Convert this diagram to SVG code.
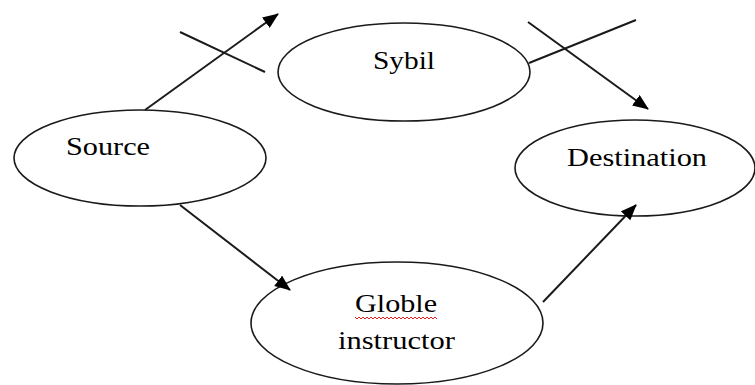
<svg xmlns="http://www.w3.org/2000/svg" width="755" height="385" viewBox="0 0 755 385">
<style>
.node ellipse{fill:#fff;stroke:#1a1a1a;stroke-width:1.6}
.lbl{font-family:'Liberation Serif','DejaVu Serif',serif;font-size:26px;fill:#000}
.edge{stroke:#1a1a1a;stroke-width:2;fill:none}
.arrow{marker-end:url(#ah)}
</style>
<defs>
<marker id="ah" markerUnits="userSpaceOnUse" markerWidth="17" markerHeight="14" refX="15" refY="6.5" orient="auto">
<path d="M0,0 L16,6.5 L0,13 z" fill="#000"/>
</marker>
</defs>
<rect width="755" height="385" fill="#fff"/>
<g id="source" class="node">
<ellipse cx="140" cy="158" rx="126" ry="48"/>
<text class="lbl" x="66" y="155" textLength="84" lengthAdjust="spacingAndGlyphs">Source</text>
</g>
<g id="sybil" class="node">
<ellipse cx="404" cy="72" rx="126" ry="49"/>
<text class="lbl" x="373" y="69" textLength="62" lengthAdjust="spacingAndGlyphs">Sybil</text>
</g>
<g id="destination" class="node">
<ellipse cx="635" cy="168" rx="120" ry="48"/>
<text class="lbl" x="567" y="166" textLength="140" lengthAdjust="spacingAndGlyphs">Destination</text>
</g>
<g id="globle" class="node">
<ellipse cx="397" cy="323" rx="146" ry="61"/>
<text class="lbl" x="355" y="312" textLength="82" lengthAdjust="spacingAndGlyphs">Globle</text>
<text class="lbl" x="338" y="349" textLength="117" lengthAdjust="spacingAndGlyphs">instructor</text>
<path d="M355,317 l2,2 l2,-2 l2,2 l2,-2 l2,2 l2,-2 l2,2 l2,-2 l2,2 l2,-2 l2,2 l2,-2 l2,2 l2,-2 l2,2 l2,-2 l2,2 l2,-2 l2,2 l2,-2 l2,2 l2,-2 l2,2 l2,-2 l2,2 l2,-2 l2,2 l2,-2 l2,2 l2,-2 l2,2 l2,-2 l2,2 l2,-2 l2,2 l2,-2 l2,2 l2,-2 l2,2 l2,-2 l2,2" fill="none" stroke="#e02020" stroke-width="1"/>
</g>
<g id="connectors">
<line class="edge arrow" x1="145" y1="110" x2="278" y2="14"/>
<line class="edge" x1="180" y1="32" x2="265" y2="72"/>
<line class="edge" x1="529" y1="63" x2="636" y2="20"/>
<line class="edge arrow" x1="528" y1="22" x2="648" y2="109"/>
<line class="edge arrow" x1="180" y1="205" x2="290" y2="290"/>
<line class="edge arrow" x1="543" y1="302" x2="636" y2="205"/>
</g>
</svg>
